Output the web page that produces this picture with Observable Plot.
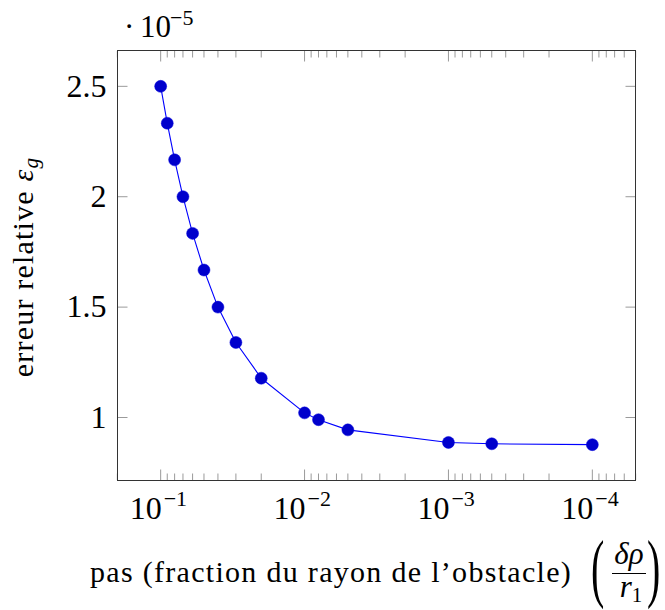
<!DOCTYPE html>
<html><head><meta charset="utf-8">
<script src="https://cdn.jsdelivr.net/npm/d3@7"></script>
<script src="https://cdn.jsdelivr.net/npm/@observablehq/plot@0.6"></script>
<style>body{margin:0;background:#fff}</style>
</head><body><div id="chart"></div>
<script>
// step (fraction of obstacle radius)
const steps = [0.1, 0.09, 0.08, 0.07, 0.06, 0.05, 0.04, 0.03, 0.02, 0.01, 0.008, 0.005, 0.001, 0.0005, 0.0001];
// relative error, in units of 1e-5
const errors = [2.5, 2.333, 2.167, 2.0, 1.834, 1.668, 1.5, 1.34, 1.178, 1.021, 0.99, 0.944, 0.887, 0.881, 0.877];
const xMajorTicks = [1e-1, 1e-2, 1e-3, 1e-4];
const xTickBase = ["10", "10", "10", "10"];
const xTickExponents = ["\u22121", "\u22122", "\u22123", "\u22124"];
const yTicks = [1, 1.5, 2, 2.5];
const yTickLabels = ["1", "1.5", "2", "2.5"];
const xMinorTicks = [];
for (let k = -5; k <= -1; k++) for (let m = 2; m <= 9; m++) {
  const v = m * Math.pow(10, k);
  if (v >= 5e-5 && v <= 0.2) xMinorTicks.push(v);
}

const data = steps.map((s, i) => ({step: s, err: errors[i]}));
const fam = "Liberation Serif, serif";
const tickGray = "#9a9a9a";

const chart = Plot.plot({
  width: 665, height: 610,
  marginLeft: 117, marginRight: 30, marginTop: 50, marginBottom: 130,
  style: {fontFamily: fam, fontSize: "30px", color: "black", background: "white"},
  x: {type: "log", domain: [Math.pow(10, -0.7), Math.pow(10, -4.3)]},
  y: {domain: [0.7147, 2.6623]},
  marks: [
    Plot.axisX({anchor: "bottom", ticks: xMinorTicks, tickSize: -6.5, tickFormat: () => "", stroke: tickGray, label: null}),
    Plot.axisX({anchor: "top", ticks: xMinorTicks, tickSize: -6.5, tickFormat: () => "", stroke: tickGray, label: null}),
    Plot.axisX({anchor: "bottom", ticks: xMajorTicks, tickSize: -10.5, tickFormat: () => "", stroke: tickGray, label: null}),
    Plot.axisX({anchor: "top", ticks: xMajorTicks, tickSize: -10.5, tickFormat: () => "", stroke: tickGray, label: null}),
    Plot.axisY({anchor: "left", ticks: yTicks, tickSize: -10.5, tickFormat: () => "", stroke: tickGray, label: null}),
    Plot.axisY({anchor: "right", ticks: yTicks, tickSize: -10.5, tickFormat: () => "", stroke: tickGray, label: null}),
    Plot.axisY({anchor: "left", ticks: yTicks, tickSize: 0, tickPadding: 11, tickFormat: d => yTickLabels[yTicks.indexOf(d)], label: null, fontSize: 32}),
    Plot.text(xMajorTicks, {x: d => d, text: (d, i) => xTickBase[i], frameAnchor: "bottom", textAnchor: "end", lineAnchor: "bottom", dx: 1, dy: 38, fontSize: 32}),
    Plot.text(xMajorTicks, {x: d => d, text: (d, i) => xTickExponents[i], frameAnchor: "bottom", textAnchor: "start", lineAnchor: "bottom", dx: 3, dy: 25, fontSize: 22}),
    Plot.frame({stroke: "#333"}),
    Plot.line(data, {x: "step", y: "err", stroke: "#0000ff", strokeWidth: 1.1}),
    Plot.dot(data, {x: "step", y: "err", r: 6, fill: "#0000cc", stroke: "#0000dd", strokeWidth: 0.5})
  ]
});
document.getElementById("chart").appendChild(chart);

const svg = d3.select(chart);
// multiplier label
const m = svg.append("text").attr("font-family", fam).attr("font-size", 31)
  .attr("text-anchor", "start").attr("fill", "black");
m.append("tspan").attr("x", 124).attr("y", 37).text("\u00b7");
m.append("tspan").attr("x", 140).attr("y", 37).text("10");
m.append("tspan").attr("x", 170).attr("y", 25).attr("font-size", 22).text("\u22125");

// y axis label
const yl = svg.append("text").attr("font-family", fam).attr("font-size", 30)
  .attr("text-anchor", "middle").attr("letter-spacing", "1.2px")
  .attr("transform", "translate(33,267) rotate(-90)");
yl.append("tspan").text("erreur relative ");
yl.append("tspan").attr("font-style", "italic").text("\u03b5");
yl.append("tspan").attr("font-style", "italic").attr("font-size", 21).attr("dy", 5).text("g");

// x axis label
svg.append("text").attr("font-family", fam).attr("font-size", 30).attr("letter-spacing", "1.3px")
  .attr("text-anchor", "start").attr("x", 90).attr("y", 582).text("pas (fraction du rayon de l\u2019obstacle)");
svg.append("text").attr("font-family", fam).attr("font-size", 40).attr("text-anchor", "start")
  .attr("transform", "translate(591,593) scale(1,1.9)").text("(");
svg.append("text").attr("font-family", fam).attr("font-size", 40).attr("text-anchor", "start")
  .attr("transform", "translate(647,593) scale(1,1.9)").text(")");
svg.append("text").attr("font-family", fam).attr("font-size", 31).attr("font-style", "italic")
  .attr("text-anchor", "middle").attr("x", 629).attr("y", 564).text("\u03b4\u03c1");
svg.append("line").attr("x1", 612).attr("x2", 646).attr("y1", 573.5).attr("y2", 573.5)
  .attr("stroke", "black").attr("stroke-width", 1.2);
const r1 = svg.append("text").attr("font-family", fam).attr("font-size", 31)
  .attr("text-anchor", "middle").attr("x", 631).attr("y", 597);
r1.append("tspan").attr("font-style", "italic").text("r");
r1.append("tspan").attr("font-size", 21).attr("dy", 5).text("1");
</script>
</body></html>
